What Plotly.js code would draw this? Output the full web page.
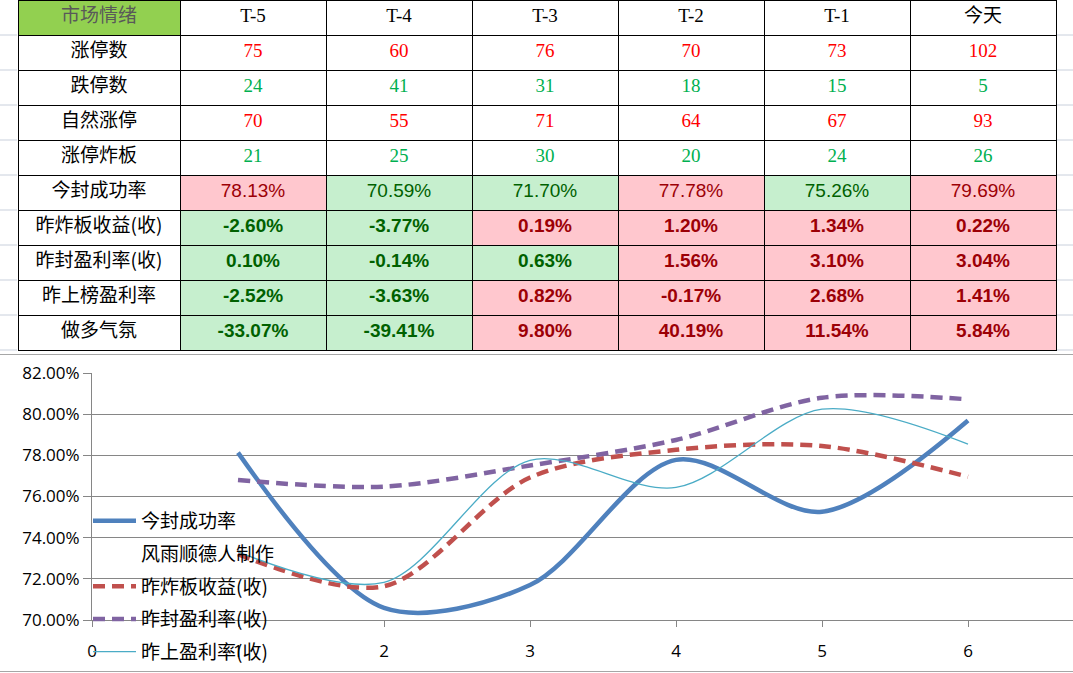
<!DOCTYPE html>
<html>
<head>
<meta charset="utf-8">
<script src="https://cdn.plot.ly/plotly-3.0.1.min.js"></script>
<style>html,body{margin:0;padding:0;background:#fff;}#chart{width:1073px;height:673px;}</style>
</head>
<body>
<div id="chart"></div>
<script>
// ---- data ----
const headerLabel = '市场情绪';
const days = ['T-5', 'T-4', 'T-3', 'T-2', 'T-1', '今天'];
const rowLabels = ['涨停数', '跌停数', '自然涨停', '涨停炸板', '今封成功率', '昨炸板收益(收)', '昨封盈利率(收)', '昨上榜盈利率', '做多气氛'];
const limitUp = [75, 60, 76, 70, 73, 102];
const limitDown = [24, 41, 31, 18, 15, 5];
const naturalUp = [70, 55, 71, 64, 67, 93];
const brokenBoard = [21, 25, 30, 20, 24, 26];
const sealRate = [78.13, 70.59, 71.70, 77.78, 75.26, 79.69];
const brokeReturn = [-2.60, -3.77, 0.19, 1.20, 1.34, 0.22];
const sealProfit = [0.10, -0.14, 0.63, 1.56, 3.10, 3.04];
const listProfit = [-2.52, -3.63, 0.82, -0.17, 2.68, 1.41];
const bullMood = [-33.07, -39.41, 9.80, 40.19, 11.54, 5.84];
// conditional-format flags (1 = highlighted red, 0 = green) per percentage row
const sealRateHot = [1, 0, 0, 1, 0, 1];
const brokeReturnHot = [0, 0, 1, 1, 1, 1];
const sealProfitHot = [0, 0, 0, 1, 1, 1];
const listProfitHot = [0, 0, 1, 1, 1, 1];
const bullMoodHot = [0, 0, 1, 1, 1, 1];
const xIndex = [1, 2, 3, 4, 5, 6];
const xTicks = [0, 1, 2, 3, 4, 5, 6];
const legendNames = ['今封成功率', '风雨顺德人制作', '昨炸板收益(收)', '昨封盈利率(收)', '昨上盈利率(收)'];

// ---- table construction ----
const W = 1073, H = 673;
const RED = '#FF0000', GRN = '#00B050';
const PINK = '#FFC7CE', LGRN = '#C6EFCE', DRED = '#9C0006', DGRN = '#006100';
const CJK = '"Noto Sans CJK SC", "Noto Sans", sans-serif';
const SERIF = '"Liberation Serif", "DejaVu Serif", serif';
const ARIAL = '"Liberation Sans", Arial, sans-serif';
const pct = v => v.toFixed(2) + '%';

const cellValues = [rowLabels];
const cellFill = [rowLabels.map(() => '#FFFFFF')];
const cellColor = [rowLabels.map(() => '#000000')];
const cellFamily = [rowLabels.map(() => CJK)];
const cellWeight = [rowLabels.map(() => 'normal')];
for (let i = 0; i < days.length; i++) {
  const pr = [
    [sealRate[i], sealRateHot[i], false],
    [brokeReturn[i], brokeReturnHot[i], true],
    [sealProfit[i], sealProfitHot[i], true],
    [listProfit[i], listProfitHot[i], true],
    [bullMood[i], bullMoodHot[i], true]
  ];
  const vals = [String(limitUp[i]), String(limitDown[i]), String(naturalUp[i]), String(brokenBoard[i])];
  const fills = ['#FFFFFF', '#FFFFFF', '#FFFFFF', '#FFFFFF'];
  const cols = [RED, GRN, RED, GRN];
  const fams = [SERIF, SERIF, SERIF, SERIF];
  const wts = ['normal', 'normal', 'normal', 'normal'];
  pr.forEach(([v, hot, bold]) => {
    vals.push(pct(v));
    fills.push(hot ? PINK : LGRN);
    cols.push(hot ? DRED : DGRN);
    fams.push(ARIAL);
    wts.push(bold ? 'bold' : 'normal');
  });
  cellValues.push(vals); cellFill.push(fills); cellColor.push(cols); cellFamily.push(fams); cellWeight.push(wts);
}

const tableTrace = {
  type: 'table',
  domain: {x: [18 / W, 1056 / W], y: [1 - 352 / H, 1]},
  columnwidth: [162, 146, 146, 146, 146, 146, 146],
  header: {
    values: [headerLabel].concat(days),
    height: 35,
    align: 'center',
    fill: {color: ['#92D050'].concat(days.map(() => '#FFFFFF'))},
    line: {color: '#000000', width: 1},
    font: {
      family: [CJK].concat(days.map(d => d === '今天' ? CJK : SERIF)),
      size: 19,
      color: ['#595959'].concat(days.map(() => '#000000'))
    }
  },
  cells: {
    values: cellValues,
    height: 35,
    align: 'center',
    fill: {color: cellFill},
    line: {color: '#000000', width: 1},
    font: {family: cellFamily, size: 19, color: cellColor, weight: cellWeight}
  }
};

// ---- chart traces ----
const pctArr = a => a.map(v => v / 100);
const SM = 0.9;
const traces = [
  tableTrace,
  {type: 'scatter', mode: 'lines', name: legendNames[0], legendgroup: 'g1', x: xIndex, y: pctArr(sealRate),
   xaxis: 'x', yaxis: 'y', line: {color: '#4F81BD', width: 4.5, shape: 'spline', smoothing: SM}},
  {type: 'scatter', mode: 'lines', name: legendNames[1], legendgroup: 'g2', x: [null], y: [null],
   xaxis: 'x', yaxis: 'y', line: {color: 'rgba(0,0,0,0)', width: 1}},
  {type: 'scatter', mode: 'lines', name: legendNames[2], legendgroup: 'g3', x: xIndex, y: pctArr(brokeReturn),
   xaxis: 'x', yaxis: 'y2', line: {color: '#C0504D', width: 4.5, dash: '12px,7px', shape: 'spline', smoothing: SM}},
  {type: 'scatter', mode: 'lines', name: legendNames[3], legendgroup: 'g4', x: xIndex, y: pctArr(sealProfit),
   xaxis: 'x', yaxis: 'y2', line: {color: '#8064A2', width: 4.5, dash: '12px,7px', shape: 'spline', smoothing: SM}},
  {type: 'scatter', mode: 'lines', name: legendNames[4], legendgroup: 'g5', x: xIndex, y: pctArr(listProfit),
   xaxis: 'x', yaxis: 'y2', line: {color: '#4BACC6', width: 1.3, shape: 'spline', smoothing: SM}}
];

// spreadsheet gridline decorations
const shapes = [];
for (let k = 1; k <= 10; k++) {
  const yy = 1 - (k * 35) / H;
  shapes.push({type: 'line', xref: 'paper', yref: 'paper', x0: 0, x1: 17 / W, y0: yy, y1: yy, line: {color: '#C9D0DC', width: 1}, layer: 'below'});
  shapes.push({type: 'line', xref: 'paper', yref: 'paper', x0: 1057 / W, x1: 1, y0: yy, y1: yy, line: {color: '#C9D0DC', width: 1}, layer: 'below'});
}
shapes.push({type: 'line', xref: 'paper', yref: 'paper', x0: 0, x1: 1, y0: 1 - 354.5 / H, y1: 1 - 354.5 / H, line: {color: '#A6A6A6', width: 1.2}});
shapes.push({type: 'line', xref: 'paper', yref: 'paper', x0: 0, x1: 1, y0: 1 - 671.5 / H, y1: 1 - 671.5 / H, line: {color: '#A6A6A6', width: 1.2}});

const layout = {
  width: W, height: H,
  margin: {l: 0, r: 0, t: 0, b: 0, pad: 0},
  paper_bgcolor: '#FFFFFF', plot_bgcolor: 'rgba(0,0,0,0)',
  showlegend: true,
  font: {family: '"Open Sans", sans-serif', color: '#000000'},
  xaxis: {
    domain: [92 / W, 1], range: [0, (W - 92) / 146], anchor: 'y',
    tickvals: xTicks, ticktext: xTicks.map(String),
    showgrid: false, zeroline: false, showline: true, linecolor: '#868686', linewidth: 1,
    ticks: 'outside', ticklen: 6, tickcolor: '#868686', ticklabelstandoff: 10,
    tickfont: {family: '"Open Sans", sans-serif', size: 17, color: '#000000'}, fixedrange: true
  },
  yaxis: {
    domain: [1 - 620 / H, 1 - 373 / H], range: [0.70, 0.82], dtick: 0.02, tick0: 0.70, tickformat: '.2%',
    showgrid: true, gridcolor: '#868686', gridwidth: 1, zeroline: false,
    showline: true, linecolor: '#868686', linewidth: 1,
    ticks: 'outside', ticklen: 8, tickcolor: '#868686',
    tickfont: {family: '"Open Sans", sans-serif', size: 17, color: '#000000'}, fixedrange: true
  },
  yaxis2: {overlaying: 'y', range: [-0.05, 0.04], visible: false, showgrid: false, zeroline: false, fixedrange: true},
  legend: {
    x: 88 / W, y: 1 - 502 / H, xanchor: 'left', yanchor: 'top',
    bgcolor: 'rgba(0,0,0,0)', borderwidth: 0, traceorder: 'grouped', tracegroupgap: 5, itemwidth: 43,
    font: {family: CJK, size: 19, color: '#000000'}
  },
  shapes: shapes
};

Plotly.newPlot('chart', traces, layout, {displayModeBar: false, staticPlot: true});
</script>
</body>
</html>
